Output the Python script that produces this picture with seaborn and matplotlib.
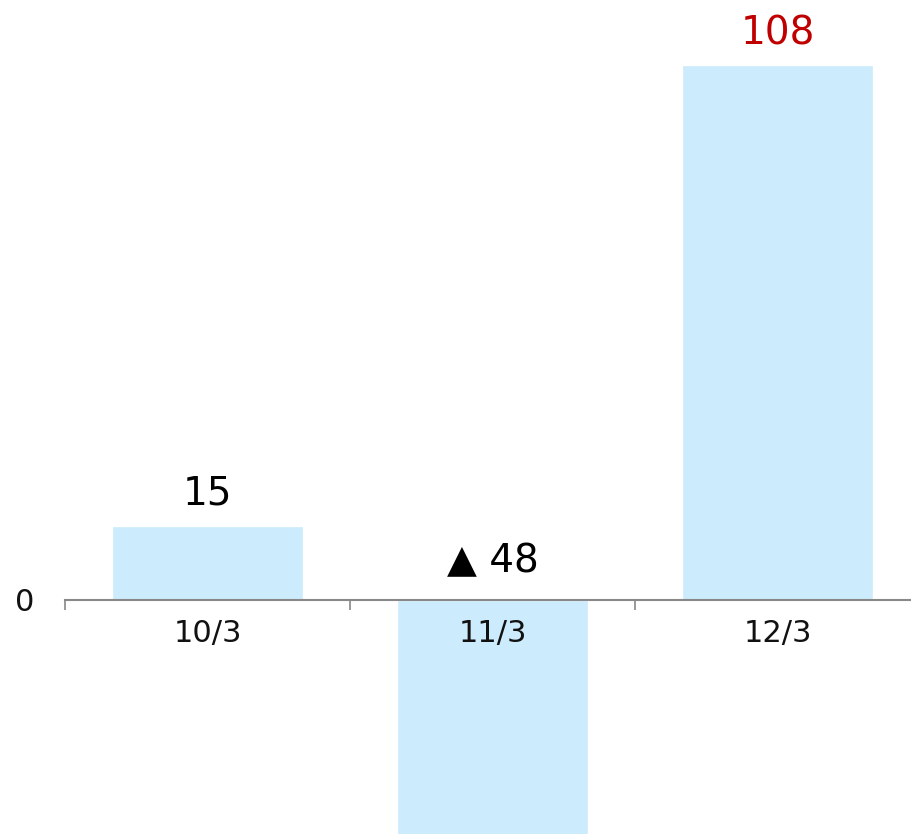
import matplotlib
matplotlib.use("Agg")
import matplotlib.pyplot as plt
import seaborn as sns
import pandas as pd

months = ["10/3", "11/3", "12/3"]
values = [15, -48, 108]
labels = ["15", "▲ 48", "108"]
label_colors = ["#000000", "#000000", "#C00000"]

sns.set_style("white")
plt.rcParams['font.family'] = ['DejaVu Sans', 'Noto Sans CJK JP']

df = pd.DataFrame({"month": months, "value": values})

fig = plt.figure(figsize=(9.12, 8.34), dpi=100)
ax = fig.add_axes([65 / 912, 0, 855 / 912, 1])

sns.barplot(data=df, x="month", y="value", color="#CCEBFC", saturation=1,
            width=0.667, ax=ax)

ax.set_xlim(-0.5, 2.5)
ax.set_ylim(-47.3, 121.2)
ax.set_axisbelow(False)

# value labels (negative ones sit above the zero line)
for i, (v, txt, c) in enumerate(zip(values, labels, label_colors)):
    off = 15 if v >= 0 else 20
    ax.annotate(txt, (i, max(v, 0)), xytext=(0, off), textcoords="offset points",
                ha="center", va="baseline", fontsize=28, color=c)

for s in ["top", "right", "left"]:
    ax.spines[s].set_visible(False)
ax.spines["bottom"].set_position(("data", 0))
ax.spines["bottom"].set_color("#888888")
ax.spines["bottom"].set_linewidth(1.5)

ax.set_xticks([0, 1, 2])
ax.set_xticklabels(months)
ax.set_xticks([-0.5, 0.5, 1.5, 2.5], minor=True)
ax.tick_params(axis="x", which="major", length=0, pad=14, labelsize=22,
               labelcolor="#111111")
ax.tick_params(axis="x", which="minor", length=7, width=1.2, color="#888888",
               direction="out", bottom=True)
ax.set_yticks([0])
ax.set_yticklabels(["0"])
ax.tick_params(axis="y", length=0, pad=22, labelsize=22, labelcolor="#111111")
ax.set_xlabel("")
ax.set_ylabel("")

fig.savefig("out.png", dpi=100)
